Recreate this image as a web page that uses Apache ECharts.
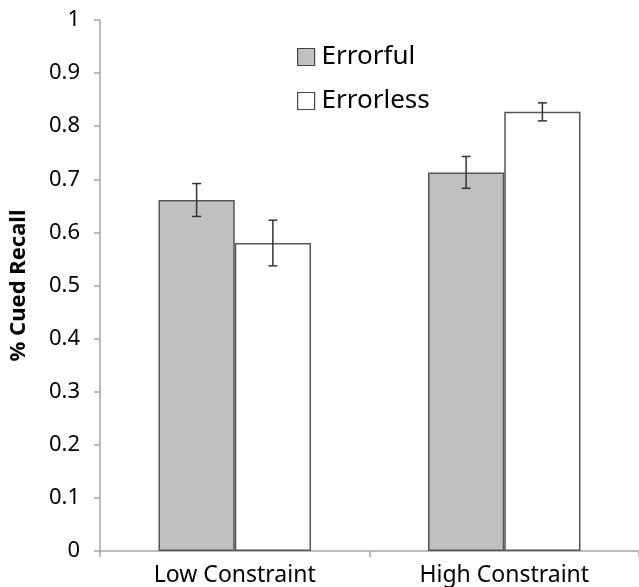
<!DOCTYPE html>
<html>
<head>
<meta charset="utf-8">
<script src="https://cdn.jsdelivr.net/npm/echarts@6/dist/echarts.min.js"></script>
<style>html,body{margin:0;padding:0;background:#fff;}#c{width:639px;height:587px;}</style>
</head>
<body>
<div id="c"></div>
<script>
var categories = ['Low Constraint', 'High Constraint'];
var seriesNames = ['Errorful', 'Errorless'];
var errorfulValues = [0.661, 0.713];
var errorlessValues = [0.580, 0.827];
var errorfulErrors = [0.031, 0.030];
var errorlessErrors = [0.043, 0.017];
var yTicks = [0, 0.1, 0.2, 0.3, 0.4, 0.5, 0.6, 0.7, 0.8, 0.9, 1];

var FONT = 'Noto Sans';
var chart = echarts.init(document.getElementById('c'), null, {renderer: 'canvas'});

function errorData(vals, errs) {
  return vals.map(function (v, i) { return [i, v - errs[i], v + errs[i]]; });
}
function errorSeries(vals, errs, idx) {
  return {
    type: 'custom',
    silent: true,
    z: 10,
    data: errorData(vals, errs),
    encode: {x: 0, y: [1, 2]},
    renderItem: function (params, api) {
      var ci = api.value(0);
      var lo = api.coord([ci, api.value(1)]);
      var hi = api.coord([ci, api.value(2)]);
      var bw = api.size([1, 0])[0];
      var barW = bw * 0.283;
      var x = lo[0] + (idx === 0 ? -barW / 2 : barW / 2);
      var cap = 4.5;
      var st = {stroke: '#333', lineWidth: 1.5};
      return {
        type: 'group',
        children: [
          {type: 'line', shape: {x1: x, y1: lo[1], x2: x, y2: hi[1]}, style: st},
          {type: 'line', shape: {x1: x - cap, y1: lo[1], x2: x + cap, y2: lo[1]}, style: st},
          {type: 'line', shape: {x1: x - cap, y1: hi[1], x2: x + cap, y2: hi[1]}, style: st}
        ]
      };
    }
  };
}

chart.setOption({
  animation: false,
  backgroundColor: '#fff',
  textStyle: {fontFamily: FONT},
  grid: {left: 97, top: 20, width: 546, height: 531, containLabel: false},
  legend: {
    orient: 'vertical',
    left: 292,
    top: 39,
    itemWidth: 17,
    itemHeight: 17,
    itemGap: 18,
    icon: 'rect',
    data: seriesNames,
    textStyle: {fontSize: 26, color: '#000', fontFamily: FONT, padding: [0, 0, 0, 2]},
    itemStyle: {borderWidth: 1.2, borderColor: '#444'}
  },
  xAxis: {
    type: 'category',
    data: categories,
    axisLine: {lineStyle: {color: '#a6a6a6', width: 1.5}},
    axisTick: {show: true, length: 6, lineStyle: {color: '#a6a6a6', width: 1.5}},
    axisLabel: {fontSize: 23, color: '#000', margin: 13, fontFamily: FONT}
  },
  yAxis: {
    type: 'value',
    min: 0,
    max: 1,
    interval: 0.1,
    name: '% Cued Recall',
    nameLocation: 'middle',
    nameGap: 70,
    nameRotate: 90,
    nameTextStyle: {fontSize: 22, fontWeight: 'bold', color: '#000', fontFamily: FONT},
    splitLine: {show: false},
    axisLine: {show: true, lineStyle: {color: '#a6a6a6', width: 1.5}},
    axisTick: {show: true, length: 6, lineStyle: {color: '#a6a6a6', width: 1.5}},
    axisLabel: {
      fontSize: 22, color: '#000', margin: 20, fontFamily: FONT,
      formatter: function (v) {
        var t = yTicks.find(function (k) { return Math.abs(k - v) < 1e-9; });
        return t === undefined ? '' : String(t);
      }
    }
  },
  series: [
    {
      name: seriesNames[0],
      type: 'bar',
      data: errorfulValues,
      barWidth: '28.3%',
      barGap: '0%',
      itemStyle: {color: '#c0c0c0', borderColor: '#555', borderWidth: 1.5}
    },
    {
      name: seriesNames[1],
      type: 'bar',
      data: errorlessValues,
      barWidth: '28.3%',
      barGap: '0%',
      itemStyle: {color: '#ffffff', borderColor: '#555', borderWidth: 1.5}
    },
    errorSeries(errorfulValues, errorfulErrors, 0),
    errorSeries(errorlessValues, errorlessErrors, 1)
  ]
});
</script>
</body>
</html>
